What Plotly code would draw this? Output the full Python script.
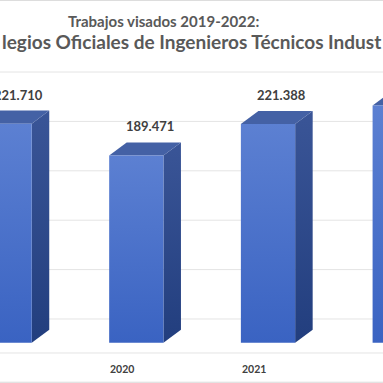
import plotly.graph_objects as go

# ---- data ----
categories = ["2019", "2020", "2021", "2022"]
values = [221710, 189471, 221388, 240000]   # 2022 estimated (label off-canvas)
grid_values = [0, 50000, 100000, 150000, 200000, 250000]
title_line1 = "Trabajos visados 2019-2022:"
title_line2 = "legios Oficiales de Ingenieros Técnicos Indust"

# ---- style / geometry ----
HW = 0.206        # half width of bar front (category units)
DX = 0.133        # 3D depth, x (category units)
DY = 13200        # 3D depth, y (value units)
LABEL_DX = 0.103
TICK_DX = -0.105
FLOOR_FRONT = -10400
FRONT_COLS = [[0, "#3A63C2"], [1, "#5C80D2"]]
SIDE_COLS = [[0, "#223E7E"], [1, "#3A5597"]]
TOP_COLOR = "#4461A5"
TEXT_COLOR = "#404040"
TITLE_COLOR = "#595959"
GRID_COLOR = "#E4E4E4"
FONT = "Lato"

fig = go.Figure()

for i, v in enumerate(values):
    # side face
    fig.add_trace(go.Scatter(
        x=[i + HW, i + HW + DX, i + HW + DX, i + HW, i + HW],
        y=[0, DY, v + DY, v, 0],
        mode="none", fill="toself", yaxis="y2",
        fillgradient=dict(type="vertical", colorscale=SIDE_COLS),
        hoverinfo="skip", showlegend=False))
    # top face
    fig.add_trace(go.Scatter(
        x=[i - HW, i + HW, i + HW + DX, i - HW + DX, i - HW],
        y=[v, v, v + DY, v + DY, v],
        mode="none", fill="toself", fillcolor=TOP_COLOR, yaxis="y2",
        hoverinfo="skip", showlegend=False))
    # front face
    fig.add_trace(go.Scatter(
        x=[i - HW, i + HW, i + HW, i - HW, i - HW],
        y=[0, 0, v, v, 0],
        mode="none", fill="toself", yaxis="y2",
        fillgradient=dict(type="vertical", colorscale=FRONT_COLS),
        hoverinfo="skip", showlegend=False))

annotations = []
for i, (c, v) in enumerate(zip(categories, values)):
    annotations.append(dict(
        x=i + LABEL_DX, y=v + DY, xref="x", yref="y2",
        text="<b>" + f"{v:,.0f}".replace(",", ".") + "</b>",
        showarrow=False, yanchor="middle", yshift=16,
        font=dict(family=FONT, size=13, color=TEXT_COLOR)))
    annotations.append(dict(
        x=i + TICK_DX, y=(383 - 369) / 383, xref="x", yref="paper",
        text="<b>" + c + "</b>", showarrow=False, yanchor="middle",
        font=dict(family=FONT, size=10.5, color=TEXT_COLOR)))

annotations.append(dict(
    x=163.5 / 383, y=1 - 21 / 383, xref="paper", yref="paper",
    text="<b>" + title_line1 + "</b>", showarrow=False, yanchor="middle",
    font=dict(family=FONT, size=15, color=TITLE_COLOR)))
annotations.append(dict(
    x=0.5, y=1 - 41.5 / 383, xref="paper", yref="paper",
    text="<b>" + title_line2 + "</b>", showarrow=False, yanchor="middle",
    font=dict(family=FONT, size=19, color=TITLE_COLOR)))

shapes = [
    dict(type="line", xref="paper", yref="y", x0=0, x1=1, y0=g, y1=g,
         line=dict(color=GRID_COLOR, width=1), layer="below")
    for g in grid_values
]
shapes += [
    dict(type="line", xref="paper", yref="y2", x0=0, x1=1,
         y0=FLOOR_FRONT, y1=FLOOR_FRONT, line=dict(color=GRID_COLOR, width=1),
         layer="below"),
    dict(type="line", xref="paper", yref="paper", x0=0, x1=1,
         y0=0.999, y1=0.999, line=dict(color="#D9D9D9", width=1)),
    dict(type="line", xref="paper", yref="paper", x0=0, x1=1,
         y0=0.002, y1=0.002, line=dict(color="#D9D9D9", width=1)),
]

fig.update_layout(
    width=383, height=383,
    margin=dict(l=0, r=0, t=0, b=0),
    paper_bgcolor="white", plot_bgcolor="white",
    xaxis=dict(range=[-0.0349, 2.873], visible=False, fixedrange=True),
    yaxis=dict(range=[-64800, 322900], showticklabels=False, showgrid=False,
               zeroline=False, showline=False, ticks="", fixedrange=True),
    yaxis2=dict(range=[-40790, 346860], overlaying="y", visible=False,
                showgrid=False, zeroline=False, fixedrange=True),
    annotations=annotations,
    shapes=shapes,
    showlegend=False,
)

fig.write_html(
    "out.html",
    config={"displayModeBar": False, "staticPlot": True},
    post_script="document.body.style.margin='0';document.body.style.overflow='hidden';",
)
